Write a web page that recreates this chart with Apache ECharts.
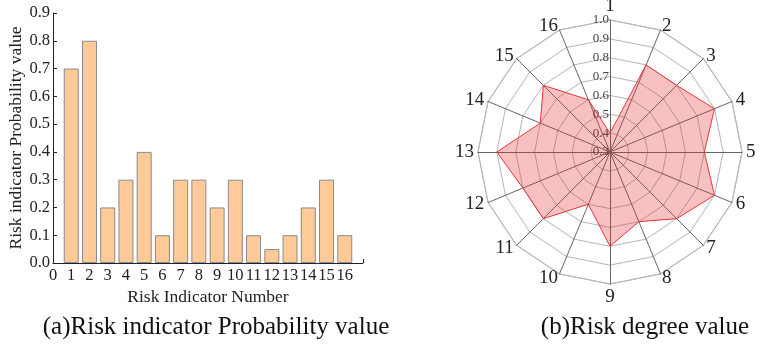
<!DOCTYPE html>
<html>
<head>
<meta charset="utf-8">
<script src="https://cdn.jsdelivr.net/npm/echarts/dist/echarts.min.js"></script>
<style>
html,body{margin:0;padding:0;background:#fff;}
#c{width:761px;height:349px;}
</style>
</head>
<body>
<div id="c"></div>
<script>
// Bar chart data
var barCategories = [1,2,3,4,5,6,7,8,9,10,11,12,13,14,15,16];
var barValues = [0.7,0.8,0.2,0.3,0.4,0.1,0.3,0.3,0.2,0.3,0.1,0.05,0.1,0.2,0.3,0.1];
// Radar chart data (indicator 1 at top, running clockwise)
var radarIndicators = ['1','2','3','4','5','6','7','8','9','10','11','12','13','14','15','16'];
var radarValues = [0.4,0.8,0.8,0.9,0.8,0.9,0.8,0.7,0.8,0.6,0.8,0.8,0.9,0.7,0.8,0.6];
var radarTickLabels = ['0.3','0.4','0.5','0.6','0.7','0.8','0.9','1.0'];
var captions = ['(a)Risk indicator Probability value', '(b)Risk degree value'];

var FONT = '"Liberation Serif", "Times New Roman", serif';
var chart = echarts.init(document.getElementById('c'));

var barData = barCategories.map(function(c, i){ return [c, barValues[i]]; });

// ECharts lays radar indicators counter-clockwise; reorder so they run clockwise
var order = [0];
for (var k = radarIndicators.length - 1; k >= 1; k--) order.push(k);
var radarIndOrdered = order.map(function(i){ return {name: radarIndicators[i], min: 0.3, max: 1.0}; });
var radarValOrdered = order.map(function(i){ return radarValues[i]; });

var option = {
  backgroundColor: '#fff',
  animation: false,
  textStyle: {fontFamily: FONT},
  grid: {left: 53, top: 13, width: 310, height: 250, containLabel: false},
  xAxis: {
    type: 'value', min: 0, max: 17, interval: 1,
    name: 'Risk Indicator Number', nameLocation: 'middle', nameGap: 19,
    nameTextStyle: {fontFamily: FONT, fontSize: 17.5, color: '#222'},
    axisLine: {show: true, lineStyle: {color: '#222', width: 1}},
    axisTick: {show: true, inside: true, length: 4, lineStyle: {color: '#222'}},
    axisLabel: {fontFamily: FONT, fontSize: 16.5, color: '#222', margin: 4,
      formatter: function(v){ return v === 17 ? '' : String(v); }},
    splitLine: {show: false}
  },
  yAxis: {
    type: 'value', min: 0, max: 0.9, interval: 0.1,
    name: 'Risk indicator Probability value', nameLocation: 'middle', nameGap: 28,
    nameTextStyle: {fontFamily: FONT, fontSize: 17.5, color: '#222'},
    axisLine: {show: true, lineStyle: {color: '#222', width: 1}},
    axisTick: {show: true, inside: true, length: 4, lineStyle: {color: '#222'}},
    axisLabel: {fontFamily: FONT, fontSize: 16.5, color: '#222', margin: 3,
      formatter: function(v){ return v.toFixed(1); }},
    splitLine: {show: false}
  },
  radar: [{
    center: [610, 152], radius: 132, shape: 'polygon', splitNumber: 7,
    startAngle: 90,
    indicator: radarIndOrdered,
    axisName: {color: '#222', fontFamily: FONT, fontSize: 19},
    nameGap: 4,
    axisLine: {lineStyle: {color: '#666', width: 1}},
    axisTick: {show: false},
    axisLabel: {show: false},
    splitLine: {lineStyle: {color: '#b5b5b5', width: 1}},
    splitArea: {show: false}
  }, {
    center: [610, 152], radius: 132, shape: 'polygon', splitNumber: 7,
    startAngle: 90,
    indicator: [{name: '', min: 0.3, max: 1.0}],
    axisName: {show: false},
    axisLine: {show: false},
    axisTick: {show: false},
    splitLine: {show: false},
    splitArea: {show: false},
    axisLabel: {show: true, fontFamily: FONT, fontSize: 13, color: '#444', margin: 1,
      formatter: function(v){ return radarTickLabels[Math.round((v - 0.3) * 10)]; }}
  }],
  series: [{
    type: 'bar',
    data: barData,
    barWidth: 15,
    itemStyle: {color: '#FECB98', borderColor: '#8a8a8a', borderWidth: 1}
  }, {
    type: 'radar',
    radarIndex: 0,
    symbol: 'none',
    data: [{value: radarValOrdered}],
    lineStyle: {color: '#E8383D', width: 1},
    areaStyle: {color: 'rgba(232,40,40,0.42)'}
  }],
  graphic: [{
    type: 'text', x: 216, y: 327,
    style: {text: captions[0], font: '25px ' + FONT, fill: '#111', textAlign: 'center', textVerticalAlign: 'middle'}
  }, {
    type: 'text', x: 645, y: 327,
    style: {text: captions[1], font: '25px ' + FONT, fill: '#111', textAlign: 'center', textVerticalAlign: 'middle'}
  }]
};
chart.setOption(option);
</script>
</body>
</html>
